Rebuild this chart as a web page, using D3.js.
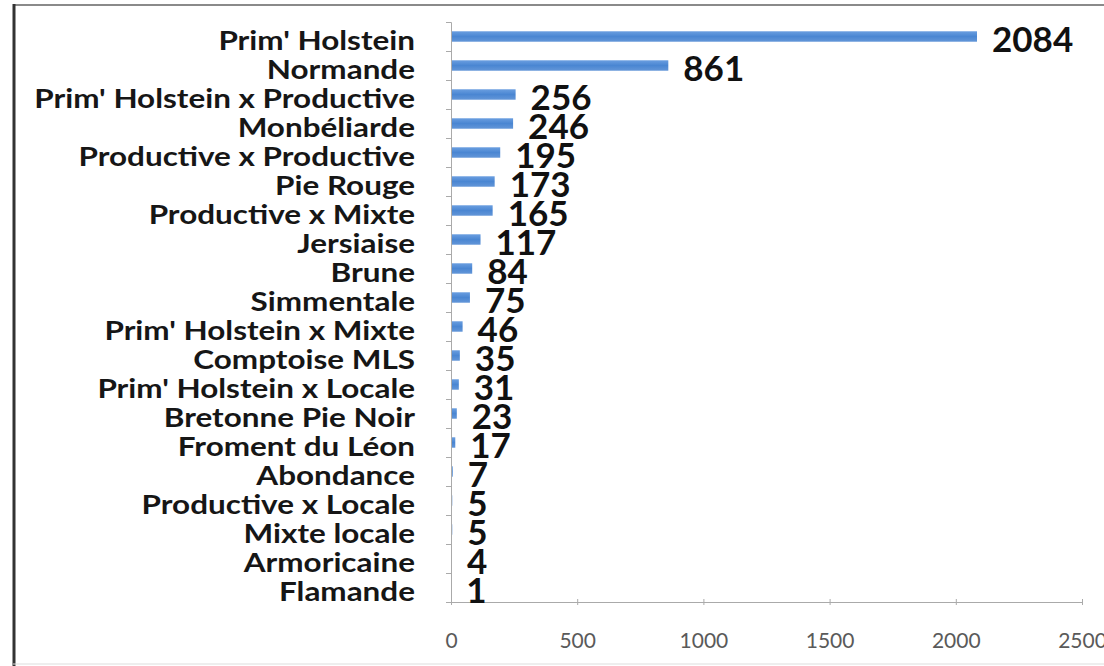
<!DOCTYPE html>
<html>
<head>
<meta charset="utf-8">
<script src="https://cdn.jsdelivr.net/npm/d3@7"></script>
<style>
  body { margin: 0; background: #fff; }
  svg { display: block; }
</style>
</head>
<body>
<svg width="1104" height="666"></svg>
<script>
var width = 1104;
var height = 666;

var breeds = ["Prim' Holstein", "Normande", "Prim' Holstein x Productive", "Monbéliarde",
  "Productive x Productive", "Pie Rouge", "Productive x Mixte", "Jersiaise", "Brune",
  "Simmentale", "Prim' Holstein x Mixte", "Comptoise MLS", "Prim' Holstein x Locale",
  "Bretonne Pie Noir", "Froment du Léon", "Abondance", "Productive x Locale",
  "Mixte locale", "Armoricaine", "Flamande"];
var counts = [2084, 861, 256, 246, 195, 173, 165, 117, 84, 75, 46, 35, 31, 23, 17, 7, 5, 5, 4, 1];
var xTicks = [0, 500, 1000, 1500, 2000, 2500];

var plotLeft = 451, plotRight = 1082, plotTop = 22, plotBottom = 602;
var labelStretch = 1.21; // scanned labels are wider than the font

var svg = d3.select("svg");

// page frame (scanned figure)
svg.append("line").attr("x1", 13).attr("x2", width).attr("y1", 5).attr("y2", 5)
  .attr("stroke", "#8a8a8a").attr("stroke-width", 2);
svg.append("line").attr("x1", 14).attr("x2", 14).attr("y1", 4).attr("y2", height)
  .attr("stroke", "#333").attr("stroke-width", 3);
svg.append("line").attr("x1", 13).attr("x2", width).attr("y1", 664).attr("y2", 664)
  .attr("stroke", "#ddd").attr("stroke-width", 1);

var xScale = d3.scaleLinear()
  .domain([0, 2500])
  .range([plotLeft, plotRight]);

var yScale = d3.scaleBand()
  .domain(breeds)
  .range([plotTop, plotBottom])
  .paddingInner(0.64)
  .paddingOuter(0.32);

var rowScale = d3.scaleLinear()
  .domain([0, breeds.length])
  .range([plotTop, plotBottom]);

// x axis
var axisHorizontal = d3.axisBottom(xScale).tickValues(xTicks).tickFormat(d3.format("d"))
  .tickSize(3).tickPadding(28);
var gx = svg.append("g").attr("transform", "translate(0," + plotBottom + ")").call(axisHorizontal);
gx.select(".domain").attr("stroke", "#aaa");
gx.selectAll(".tick line").attr("stroke", "#aaa").attr("y1", -3);
gx.selectAll(".tick text")
  .attr("font-family", "Lato")
  .attr("font-size", "21px")
  .attr("fill", "#5a5a5a");

// y axis line with ticks between rows
var axisRows = d3.axisLeft(rowScale).ticks(breeds.length).tickSize(5).tickFormat("");
var gr = svg.append("g").attr("transform", "translate(" + plotLeft + ",0)").call(axisRows);
gr.select(".domain").attr("stroke", "#aaa");
gr.selectAll(".tick line").attr("stroke", "#aaa");

// category labels
var axisVertical = d3.axisLeft(yScale).tickSize(0).tickPadding(36);
var gy = svg.append("g").attr("transform", "translate(" + plotLeft + ",0)").call(axisVertical);
gy.select(".domain").remove();
gy.selectAll(".tick text")
  .attr("x", -36 / labelStretch)
  .attr("dy", "0.53em")
  .attr("transform", "scale(" + labelStretch + ",1)")
  .attr("font-family", "Lato")
  .attr("font-weight", "bold")
  .attr("font-size", "26px")
  .attr("fill", "#161616");

// bars
var grad = svg.append("defs").append("linearGradient")
  .attr("id", "barGrad").attr("x1", 0).attr("x2", 0).attr("y1", 0).attr("y2", 1);
grad.append("stop").attr("offset", "0%").attr("stop-color", "#6a9ee0");
grad.append("stop").attr("offset", "50%").attr("stop-color", "#4a86d2");
grad.append("stop").attr("offset", "100%").attr("stop-color", "#6396d8");

svg.append("g").selectAll("rect").data(breeds).enter()
  .append("rect")
  .attr("x", xScale(0) + 1)
  .attr("y", function(d) { return yScale(d); })
  .attr("width", function(d, i) { return Math.max(0, xScale(counts[i]) - xScale(0) - 1); })
  .attr("height", yScale.bandwidth())
  .attr("fill", "url(#barGrad)");

// value labels
svg.append("g").selectAll("text").data(breeds).enter()
  .append("text")
  .attr("x", function(d, i) { return xScale(counts[i]) + 15; })
  .attr("y", function(d) { return yScale(d) + yScale.bandwidth() / 2; })
  .attr("dy", "0.45em")
  .attr("font-family", "Lato")
  .attr("font-weight", "bold")
  .attr("font-size", "35px")
  .attr("fill", "#111")
  .text(function(d, i) { return counts[i]; });
</script>
</body>
</html>
